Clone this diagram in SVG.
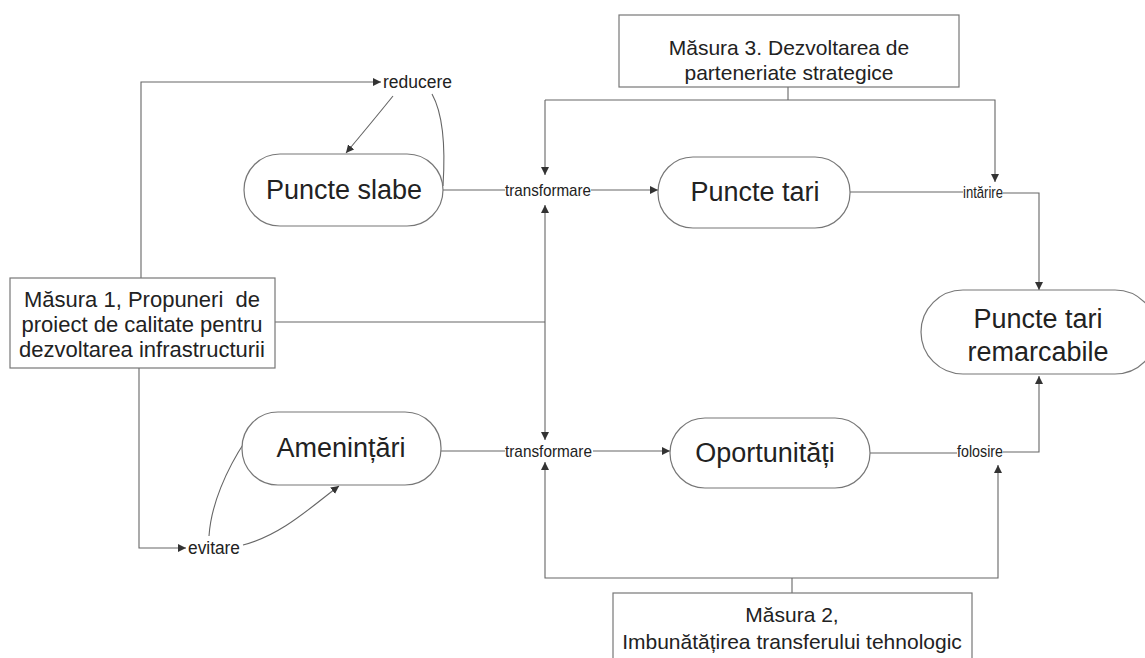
<svg xmlns="http://www.w3.org/2000/svg" width="1145" height="658" viewBox="0 0 1145 658">
  <defs>
    <marker id="arrow" markerWidth="9" markerHeight="8" refX="8" refY="4" orient="auto" markerUnits="userSpaceOnUse">
      <path d="M0,0 L8,4 L0,8 Z" fill="#333"/>
    </marker>
    <style>
      .box { fill: #fff; stroke: #777; stroke-width: 1.2; }
      .pill { fill: #fff; stroke: #777; stroke-width: 1.2; }
      .big { font-family: "Liberation Sans", Arial, sans-serif; font-size: 27px; fill: #222; text-anchor: middle; }
      .mid { font-family: "Liberation Sans", Arial, sans-serif; font-size: 21px; fill: #222; text-anchor: middle; }
      .m1 { font-family: "Liberation Sans", Arial, sans-serif; font-size: 22px; fill: #222; text-anchor: middle; }
      .lbl { font-family: "Liberation Sans", Arial, sans-serif; font-size: 17px; fill: #222; }
      .lbl2 { font-family: "Liberation Sans", Arial, sans-serif; font-size: 17.5px; fill: #222; }
      .ln { fill: none; stroke: #666; stroke-width: 1.1; }
      .la { fill: none; stroke: #666; stroke-width: 1.1; marker-end: url(#arrow); }
    </style>
  </defs>
  <rect width="1145" height="658" fill="#fff"/>

  <!-- connectors -->
  <g id="connectors">
    <!-- Masura 1 branches -->
    <path class="la" d="M141,278 V82 H381"/>
    <path class="la" d="M139,368 V548 H186"/>
    <path class="ln" d="M275,322 H545"/>
    <!-- reducere loop -->
    <path class="la" d="M393,96 Q372,122 346,153"/>
    <path class="ln" d="M443,186 C446,140 442,112 432,94"/>
    <!-- evitare loop -->
    <path class="ln" d="M246,440 C226,470 211,505 209,536"/>
    <path class="la" d="M243,545 C282,535 312,506 339,486"/>
    <!-- upper row -->
    <path class="ln" d="M443,190 H505"/>
    <path class="la" d="M591,190 H658"/>
    <path class="ln" d="M850,192 H963"/>
    <path class="la" d="M1003,193 H1039 V290"/>
    <!-- Masura 3 branches -->
    <path class="ln" d="M788,87 V100"/>
    <path class="la" d="M545,100 H995 V182"/>
    <path class="la" d="M545,100 V175"/>
    <!-- central vertical -->
    <path class="la" d="M545,322 V205"/>
    <path class="la" d="M545,322 V440"/>
    <!-- lower row -->
    <path class="ln" d="M441,451 H505"/>
    <path class="la" d="M593,451 H670"/>
    <path class="ln" d="M870,453 H957"/>
    <path class="la" d="M1003,452 H1039 V376"/>
    <!-- Masura 2 branches -->
    <path class="ln" d="M792,593 V578"/>
    <path class="la" d="M792,578 H545 V462"/>
    <path class="la" d="M792,578 H998 V465"/>
  </g>

  <!-- connector labels -->
  <g id="labels">
    <text class="lbl2" x="383" y="88" textLength="69" lengthAdjust="spacingAndGlyphs">reducere</text>
    <text class="lbl2" x="188" y="554" textLength="52" lengthAdjust="spacingAndGlyphs">evitare</text>
    <text class="lbl" x="505" y="196" textLength="86" lengthAdjust="spacingAndGlyphs">transformare</text>
    <text class="lbl" x="505" y="457" textLength="87" lengthAdjust="spacingAndGlyphs">transformare</text>
    <text class="lbl" x="963" y="198" textLength="40" lengthAdjust="spacingAndGlyphs">intărire</text>
    <text class="lbl" x="957" y="457" textLength="46" lengthAdjust="spacingAndGlyphs">folosire</text>
  </g>

  <g id="masura3">
    <rect class="box" x="619" y="15" width="340" height="72"/>
    <text class="mid" x="789" y="55">Măsura 3. Dezvoltarea de</text>
    <text class="mid" x="789" y="80">parteneriate strategice</text>
  </g>

  <g id="masura1">
    <rect class="box" x="10" y="278" width="265" height="90"/>
    <text class="m1" x="142" y="307" xml:space="preserve">Măsura 1, Propuneri  de</text>
    <text class="m1" x="142" y="332">proiect de calitate pentru</text>
    <text class="m1" x="142" y="357">dezvoltarea infrastructurii</text>
  </g>

  <g id="masura2">
    <rect class="box" x="613" y="593" width="359" height="80"/>
    <text class="mid" x="792" y="622">Măsura 2,</text>
    <text class="mid" x="792" y="649">Imbunătățirea transferului tehnologic</text>
  </g>

  <g id="puncte-slabe">
    <rect class="pill" x="244" y="154" width="199" height="72" rx="36"/>
    <text class="big" x="344" y="199">Puncte slabe</text>
  </g>

  <g id="puncte-tari">
    <rect class="pill" x="658" y="157" width="192" height="71" rx="35"/>
    <text class="big" x="755" y="201">Puncte tari</text>
  </g>

  <g id="amenintari">
    <rect class="pill" x="242" y="412" width="199" height="73" rx="36"/>
    <text class="big" x="341" y="457">Amenințări</text>
  </g>

  <g id="oportunitati">
    <rect class="pill" x="670" y="418" width="200" height="70" rx="35"/>
    <text class="big" x="765" y="462">Oportunități</text>
  </g>

  <g id="puncte-tari-remarcabile">
    <rect class="pill" x="921" y="290" width="236" height="84" rx="42"/>
    <text class="big" x="1038" y="328">Puncte tari</text>
    <text class="big" x="1038" y="361">remarcabile</text>
  </g>
</svg>
